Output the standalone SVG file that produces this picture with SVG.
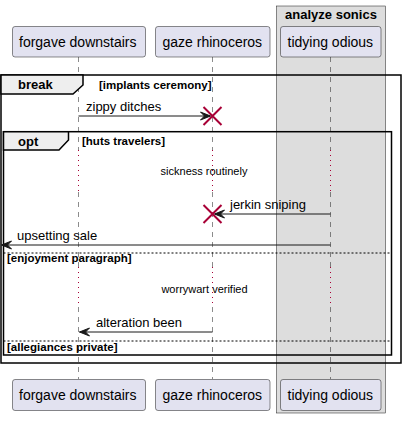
<svg xmlns="http://www.w3.org/2000/svg" width="406" height="421" viewBox="0 0 406 421">
<style>
text{font-family:"Liberation Sans",Arial,sans-serif;fill:#000}
.pbox{fill:#E2E2F0;stroke:#181818;stroke-width:0.5}
.pt{font-size:14px}
.life{stroke:#181818;stroke-width:0.5;stroke-dasharray:5,5;fill:none}
.dot{stroke:#A80036;stroke-width:1;stroke-dasharray:1,4;fill:none}
.frame{fill:none;stroke:#000;stroke-width:1.5}
.tab{fill:#EEEEEE;stroke:#000;stroke-width:1.5}
.tabt{font-size:13px;font-weight:bold}
.cond{font-size:11.5px;font-weight:bold}
.sep{stroke:#000;stroke-width:1;stroke-dasharray:2,2}
.msg{stroke:#181818;stroke-width:1;fill:none}
.head{fill:#181818;stroke:#181818;stroke-width:1}
.mt{font-size:13px}
.dl{font-size:11px}
.x{stroke:#A80036;stroke-width:2}
</style>
<g id="box-analyze-sonics">
<rect x="276.5" y="6" width="109" height="407" fill="#DDDDDD" stroke="#181818" stroke-width="0.5"/>
<text x="331" y="19" text-anchor="middle" style="font-size:13px;font-weight:bold">analyze sonics</text>
</g>
<g id="lifelines">
<path class="life" d="M78.5,57 V150 M78.5,192 V267 M78.5,307 V379"/>
<path class="dot" d="M78.5,150 V192 M78.5,267 V307"/>
<path class="life" d="M212.5,57 V150 M212.5,192 V267 M212.5,307 V379"/>
<path class="dot" d="M212.5,150 V192 M212.5,267 V307"/>
<path class="life" d="M330.5,57 V150 M330.5,192 V267 M330.5,307 V379"/>
<path class="dot" d="M330.5,150 V192 M330.5,267 V307"/>
</g>
<g id="p-forgave-downstairs">
<rect class="pbox" x="12.5" y="26.5" width="133" height="30.5" rx="2.5"/>
<text class="pt" x="19" y="46.5">forgave downstairs</text>
<rect class="pbox" x="12.5" y="379.5" width="133" height="31" rx="2.5"/>
<text class="pt" x="19" y="399.5">forgave downstairs</text>
</g>
<g id="p-gaze-rhinoceros">
<rect class="pbox" x="155.5" y="26.5" width="114.5" height="30.5" rx="2.5"/>
<text class="pt" x="162.5" y="46.5">gaze rhinoceros</text>
<rect class="pbox" x="155.5" y="379.5" width="114.5" height="31" rx="2.5"/>
<text class="pt" x="162.5" y="399.5">gaze rhinoceros</text>
</g>
<g id="p-tidying-odious">
<rect class="pbox" x="280.5" y="26.5" width="100.5" height="30.5" rx="2.5"/>
<text class="pt" x="287.5" y="46.5">tidying odious</text>
<rect class="pbox" x="280.5" y="379.5" width="100.5" height="31" rx="2.5"/>
<text class="pt" x="287.5" y="399.5">tidying odious</text>
</g>
<g id="group-break">
<rect class="frame" x="1" y="75" width="400" height="288"/>
<path class="tab" d="M1,75 H83 V85 L73,94 H1 Z"/>
<text class="tabt" x="18" y="89">break</text>
<text class="cond" x="99" y="88.5">[implants ceremony]</text>
</g>
<g id="group-opt">
<rect class="frame" x="3.5" y="131.7" width="388" height="223.3"/>
<path class="tab" d="M3.5,131.7 H68.5 V140 L59,150 H3.5 Z"/>
<text class="tabt" x="18" y="145.5">opt</text>
<text class="cond" x="82" y="145">[huts travelers]</text>
<line class="sep" x1="3.5" y1="253" x2="391.5" y2="253"/>
<text class="cond" x="7" y="262">[enjoyment paragraph]</text>
<line class="sep" x1="3.5" y1="341" x2="391.5" y2="341"/>
<text class="cond" x="7" y="350.5">[allegiances private]</text>
</g>
<g id="connectors">
<line class="msg" x1="78.5" y1="116" x2="210.5" y2="116"/>
<polygon class="head" points="200.5,112 210.5,116 200.5,120 204.5,116"/>
<text class="mt" x="86" y="111">zippy ditches</text>
<path class="x" d="M203.5,107 L221.5,125 M221.5,107 L203.5,125"/>
<text class="dl" x="204" y="175" text-anchor="middle">sickness routinely</text>
<line class="msg" x1="330.5" y1="214" x2="214.5" y2="214"/>
<polygon class="head" points="224.5,210 214.5,214 224.5,218 220.5,214"/>
<text class="mt" x="230" y="209">jerkin sniping</text>
<path class="x" d="M203.5,205 L221.5,223 M221.5,205 L203.5,223"/>
<line class="msg" x1="330.5" y1="245" x2="1.5" y2="245"/>
<polygon class="head" points="11.5,241 1.5,245 11.5,249 7.5,245"/>
<text class="mt" x="17" y="240">upsetting sale</text>
<text class="dl" x="204.5" y="292.5" text-anchor="middle">worrywart verified</text>
<line class="msg" x1="212.5" y1="332" x2="79.5" y2="332"/>
<polygon class="head" points="89.5,328 79.5,332 89.5,336 85.5,332"/>
<text class="mt" x="96" y="327">alteration been</text>
</g>
</svg>
